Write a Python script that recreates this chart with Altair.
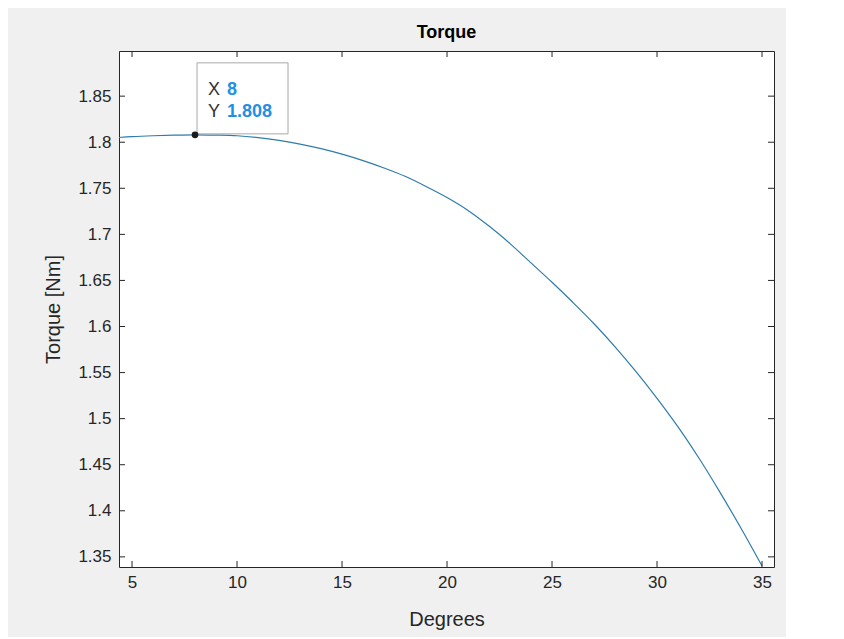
import altair as alt
import pandas as pd

degrees = [4, 5, 6, 7, 8, 9, 10, 11, 12, 13, 14, 15, 16, 17, 18, 19, 20,
           21, 22, 23, 24, 25, 26, 27, 28, 29, 30, 31, 32, 33, 34, 35]
torque = [1.8045, 1.806, 1.807, 1.8077, 1.808, 1.8077, 1.807, 1.805, 1.802,
          1.798, 1.793, 1.787, 1.780, 1.772, 1.763, 1.752, 1.740, 1.726,
          1.709, 1.690, 1.669, 1.648, 1.626, 1.603, 1.578, 1.551, 1.522,
          1.491, 1.457, 1.420, 1.381, 1.340]

x_ticks = [5, 10, 15, 20, 25, 30, 35]
y_ticks = [1.35, 1.4, 1.45, 1.5, 1.55, 1.6, 1.65, 1.7, 1.75, 1.8, 1.85]

tip_x = [8]
tip_y = [1.808]
tip_x_text = ["8"]
tip_y_text = ["1.808"]

W, H = 655, 516
FONT = "Liberation Sans"
AX = "#262626"

df = pd.DataFrame({"deg": degrees, "torque": torque})
tip = pd.DataFrame({"deg": tip_x, "torque": tip_y, "xt": tip_x_text, "yt": tip_y_text})
xt = pd.DataFrame({"v": x_ticks})
yt = pd.DataFrame({"v": y_ticks})

xs = alt.Scale(domain=[4.38, 35.57], nice=False, zero=False)
ys = alt.Scale(domain=[1.339, 1.899], nice=False, zero=False)

line = alt.Chart(df).mark_line(color="#2e7cad", strokeWidth=1.2, clip=True,
                               interpolate="monotone").encode(
    x=alt.X("deg:Q", scale=xs, title="Degrees",
            axis=alt.Axis(values=x_ticks, ticks=False, domain=False, grid=False,
                          labelFontSize=17, labelColor=AX, labelPadding=7,
                          titleFontSize=20, titleFontWeight="normal", titleColor=AX,
                          titlePadding=19, labelFont=FONT, titleFont=FONT)),
    y=alt.Y("torque:Q", scale=ys, title="Torque [Nm]",
            axis=alt.Axis(values=y_ticks, ticks=False, domain=False, grid=False,
                          format=".2~f", labelFontSize=17, labelColor=AX, labelPadding=8,
                          titleFontSize=20, titleFontWeight="normal", titleColor=AX,
                          titlePadding=14, labelFont=FONT, titleFont=FONT)),
)

xb = alt.Chart(xt).mark_rule(color=AX, strokeWidth=1).encode(
    x=alt.X("v:Q", scale=xs), y=alt.value(H), y2=alt.value(H - 6))
xtop = alt.Chart(xt).mark_rule(color=AX, strokeWidth=1).encode(
    x=alt.X("v:Q", scale=xs), y=alt.value(0), y2=alt.value(6))
yl = alt.Chart(yt).mark_rule(color=AX, strokeWidth=1).encode(
    y=alt.Y("v:Q", scale=ys), x=alt.value(0), x2=alt.value(6))
yr = alt.Chart(yt).mark_rule(color=AX, strokeWidth=1).encode(
    y=alt.Y("v:Q", scale=ys), x=alt.value(W), x2=alt.value(W - 6))

box = alt.Chart(tip).mark_point(
    shape="M0.02,-0.01L0.93,-0.01L0.93,-0.72L0.02,-0.72Z",
    size=40000, filled=True, fill="#ffffff", stroke="#a9a9a9", strokeWidth=1, opacity=1
).encode(x=alt.X("deg:Q", scale=xs), y=alt.Y("torque:Q", scale=ys))

dot = alt.Chart(tip).mark_point(shape="circle", size=45, filled=True, color="#1a1a1a", opacity=1).encode(
    x=alt.X("deg:Q", scale=xs), y=alt.Y("torque:Q", scale=ys))

lbl_x = alt.Chart(tip).mark_text(text="X", align="left", baseline="middle", dx=13, dy=-45,
                                 fontSize=18, font=FONT, color="#333333").encode(
    x=alt.X("deg:Q", scale=xs), y=alt.Y("torque:Q", scale=ys))
val_x = alt.Chart(tip).mark_text(align="left", baseline="middle", dx=32, dy=-45,
                                 fontSize=18, font=FONT, fontWeight="bold", color="#1e90e6").encode(
    x=alt.X("deg:Q", scale=xs), y=alt.Y("torque:Q", scale=ys), text="xt:N")
lbl_y = alt.Chart(tip).mark_text(text="Y", align="left", baseline="middle", dx=13, dy=-23,
                                 fontSize=18, font=FONT, color="#333333").encode(
    x=alt.X("deg:Q", scale=xs), y=alt.Y("torque:Q", scale=ys))
val_y = alt.Chart(tip).mark_text(align="left", baseline="middle", dx=32, dy=-23,
                                 fontSize=18, font=FONT, fontWeight="bold", color="#1e90e6").encode(
    x=alt.X("deg:Q", scale=xs), y=alt.Y("torque:Q", scale=ys), text="yt:N")

chart = alt.layer(line, xb, xtop, yl, yr, box, dot, lbl_x, val_x, lbl_y, val_y).properties(
    width=W, height=H,
    title=alt.TitleParams("Torque", fontSize=18, fontWeight="bold", font=FONT, color="#000000",
                          anchor="middle", offset=9),
    autosize=alt.AutoSizeParams(type="none"),
    padding={"left": 111, "top": 43, "right": 12, "bottom": 70},
    background="#f0f0f0",
).configure_view(stroke=AX, strokeWidth=1, fill="#ffffff")

chart.save("out.html", embed_options={"renderer": "svg", "actions": False})
